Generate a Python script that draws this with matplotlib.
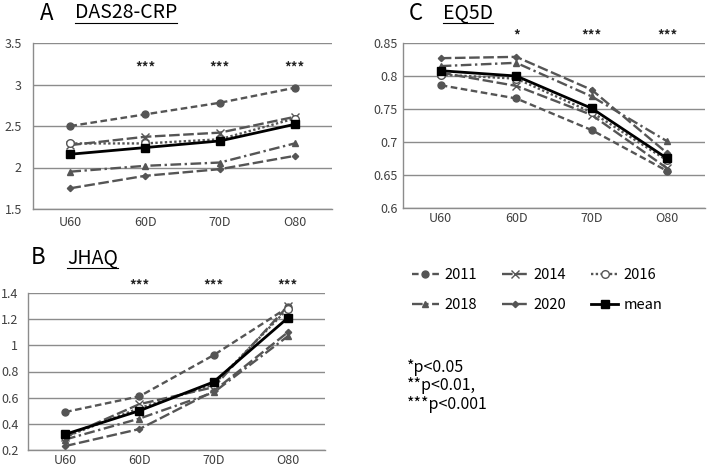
import numpy as np
import matplotlib
matplotlib.use("Agg")
from matplotlib import pyplot as plt
from matplotlib.lines import Line2D

plt.rcParams['font.family'] = ['Noto Sans CJK JP', 'DejaVu Sans']

# Данные
categories = ["U60", "60D", "70D", "O80"]
years = ["2011", "2014", "2016", "2018", "2020", "mean"]

das28 = {
    "2011": [2.50, 2.64, 2.78, 2.96],
    "2014": [2.27, 2.37, 2.42, 2.61],
    "2016": [2.29, 2.29, 2.34, 2.59],
    "2018": [1.95, 2.02, 2.06, 2.29],
    "2020": [1.75, 1.90, 1.98, 2.14],
    "mean": [2.16, 2.24, 2.32, 2.52],
}
jhaq = {
    "2011": [0.49, 0.61, 0.925, 1.29],
    "2014": [0.30, 0.55, 0.68, 1.30],
    "2016": [0.30, 0.52, 0.70, 1.28],
    "2018": [0.28, 0.44, 0.64, 1.07],
    "2020": [0.23, 0.36, 0.65, 1.10],
    "mean": [0.32, 0.50, 0.72, 1.21],
}
eq5d = {
    "2011": [0.786, 0.766, 0.718, 0.656],
    "2014": [0.805, 0.785, 0.741, 0.660],
    "2016": [0.802, 0.796, 0.745, 0.672],
    "2018": [0.815, 0.820, 0.769, 0.701],
    "2020": [0.827, 0.829, 0.779, 0.683],
    "mean": [0.808, 0.800, 0.751, 0.675],
}

stars_a = ["", "***", "***", "***"]
stars_b = ["", "***", "***", "***"]
stars_c = ["", "*", "***", "***"]

gray = '#555555'
styles = {
    "2011": dict(color=gray, ls=(0, (2.8, 1.5)), marker='o', ms=5, mfc=gray, mec=gray),
    "2014": dict(color=gray, ls=(0, (4.5, 1.5)), marker='x', ms=5.5, mfc=gray, mec=gray, mew=1),
    "2016": dict(color=gray, ls=(0, (1, 1)), marker='o', ms=5.5, mfc='white', mec=gray, mew=1),
    "2018": dict(color=gray, ls=(0, (4.5, 1.5, 1, 1.5)), marker='^', ms=4.5, mfc=gray, mec=gray),
    "2020": dict(color=gray, ls=(0, (4.5, 1.5)), marker='D', ms=3.2, mfc=gray, mec=gray),
    "mean": dict(color='black', ls='-', marker='s', ms=6, mfc='black', mec='black'),
}

W, H = 708, 472
fig = plt.figure(figsize=(W / 100, H / 100), dpi=100)


def px_axes(left, top, right, bottom):
    return fig.add_axes([left / W, 1 - bottom / H, (right - left) / W, (bottom - top) / H])


def setup(ax, data, ylim, yticks, ypad, xpad, stars, star_y):
    x = np.arange(len(categories))
    for y in years:
        st = styles[y]
        ax.plot(x, data[y], lw=1.7 if y != "mean" else 2.0, label=y, zorder=3 if y == "mean" else 2, **st)
    ax.set_xlim(-0.5, len(categories) - 0.5)
    ax.set_ylim(*ylim)
    ax.set_yticks(yticks)
    ax.set_yticklabels(['%g' % v for v in yticks])
    ax.set_xticks(x)
    ax.set_xticklabels(categories)
    ax.tick_params(axis='both', length=0, labelsize=9, colors='#404040')
    ax.tick_params(axis='y', pad=ypad)
    ax.tick_params(axis='x', pad=xpad)
    ax.grid(axis='y', color='#8c8c8c', lw=1)
    ax.set_axisbelow(True)
    for s in ['top', 'right']:
        ax.spines[s].set_visible(False)
    for s in ['left', 'bottom']:
        ax.spines[s].set_color('#8c8c8c')
        ax.spines[s].set_linewidth(1)
    for i, s in enumerate(stars):
        if s:
            ax.text(i, star_y, s, ha='center', va='center', fontsize=9.5, fontweight='bold',
                    color='#222222', clip_on=False)


axA = px_axes(33, 43, 332, 209)
setup(axA, das28, (1.5, 3.5), [1.5, 2, 2.5, 3, 3.5], 8, 5, stars_a, 3.2)

axB = px_axes(28, 293, 325, 450)
setup(axB, jhaq, (0.2, 1.4), [0.2, 0.4, 0.6, 0.8, 1.0, 1.2, 1.4], 7, 3, stars_b, 1.46)

axC = px_axes(403, 43, 705, 208)
setup(axC, eq5d, (0.6, 0.85), [0.6, 0.65, 0.7, 0.75, 0.8, 0.85], 4, 3, stars_c, 0.862)

# Подписи панелей
letters = [("A", 47, 13, "DAS28-CRP", 75), ("B", 38, 258, "JHAQ", 67), ("C", 416, 13, "EQ5D", 443)]
titles = []
for letter, lx, ly, title, tx in letters:
    fig.text(lx / W, 1 - ly / H, letter, ha='center', va='center', fontsize=16)
    t = fig.text(tx / W, 1 - ly / H, title, ha='left', va='center', fontsize=14)
    titles.append(t)

# Легенда (порядок по строкам)
order = ["2011", "2018", "2014", "2020", "2016", "mean"]
handles = [Line2D([], [], lw=1.7 if y != "mean" else 2.0, **styles[y]) for y in order]
fig.legend(handles, order, loc='upper left', bbox_to_anchor=(405 / W, 1 - 261 / H), ncol=3,
           frameon=False, handlelength=1.8, handletextpad=0.4, borderpad=0,
           columnspacing=1.7, labelspacing=1.1, prop={'size': 10.5})

fig.text(407 / W, 1 - 386 / H, "*p<0.05\n**p<0.01,\n***p<0.001", ha='left', va='center',
         fontsize=11.5, linespacing=1.15)

# Подчеркивание заголовков
fig.canvas.draw()
renderer = fig.canvas.get_renderer()
for t in titles:
    bb = t.get_window_extent(renderer)
    y0 = bb.y0 + 1
    fig.add_artist(Line2D([bb.x0 / W, bb.x1 / W], [y0 / H, y0 / H], color='black', lw=0.8,
                          transform=fig.transFigure))

fig.savefig("out.png", dpi=100)
